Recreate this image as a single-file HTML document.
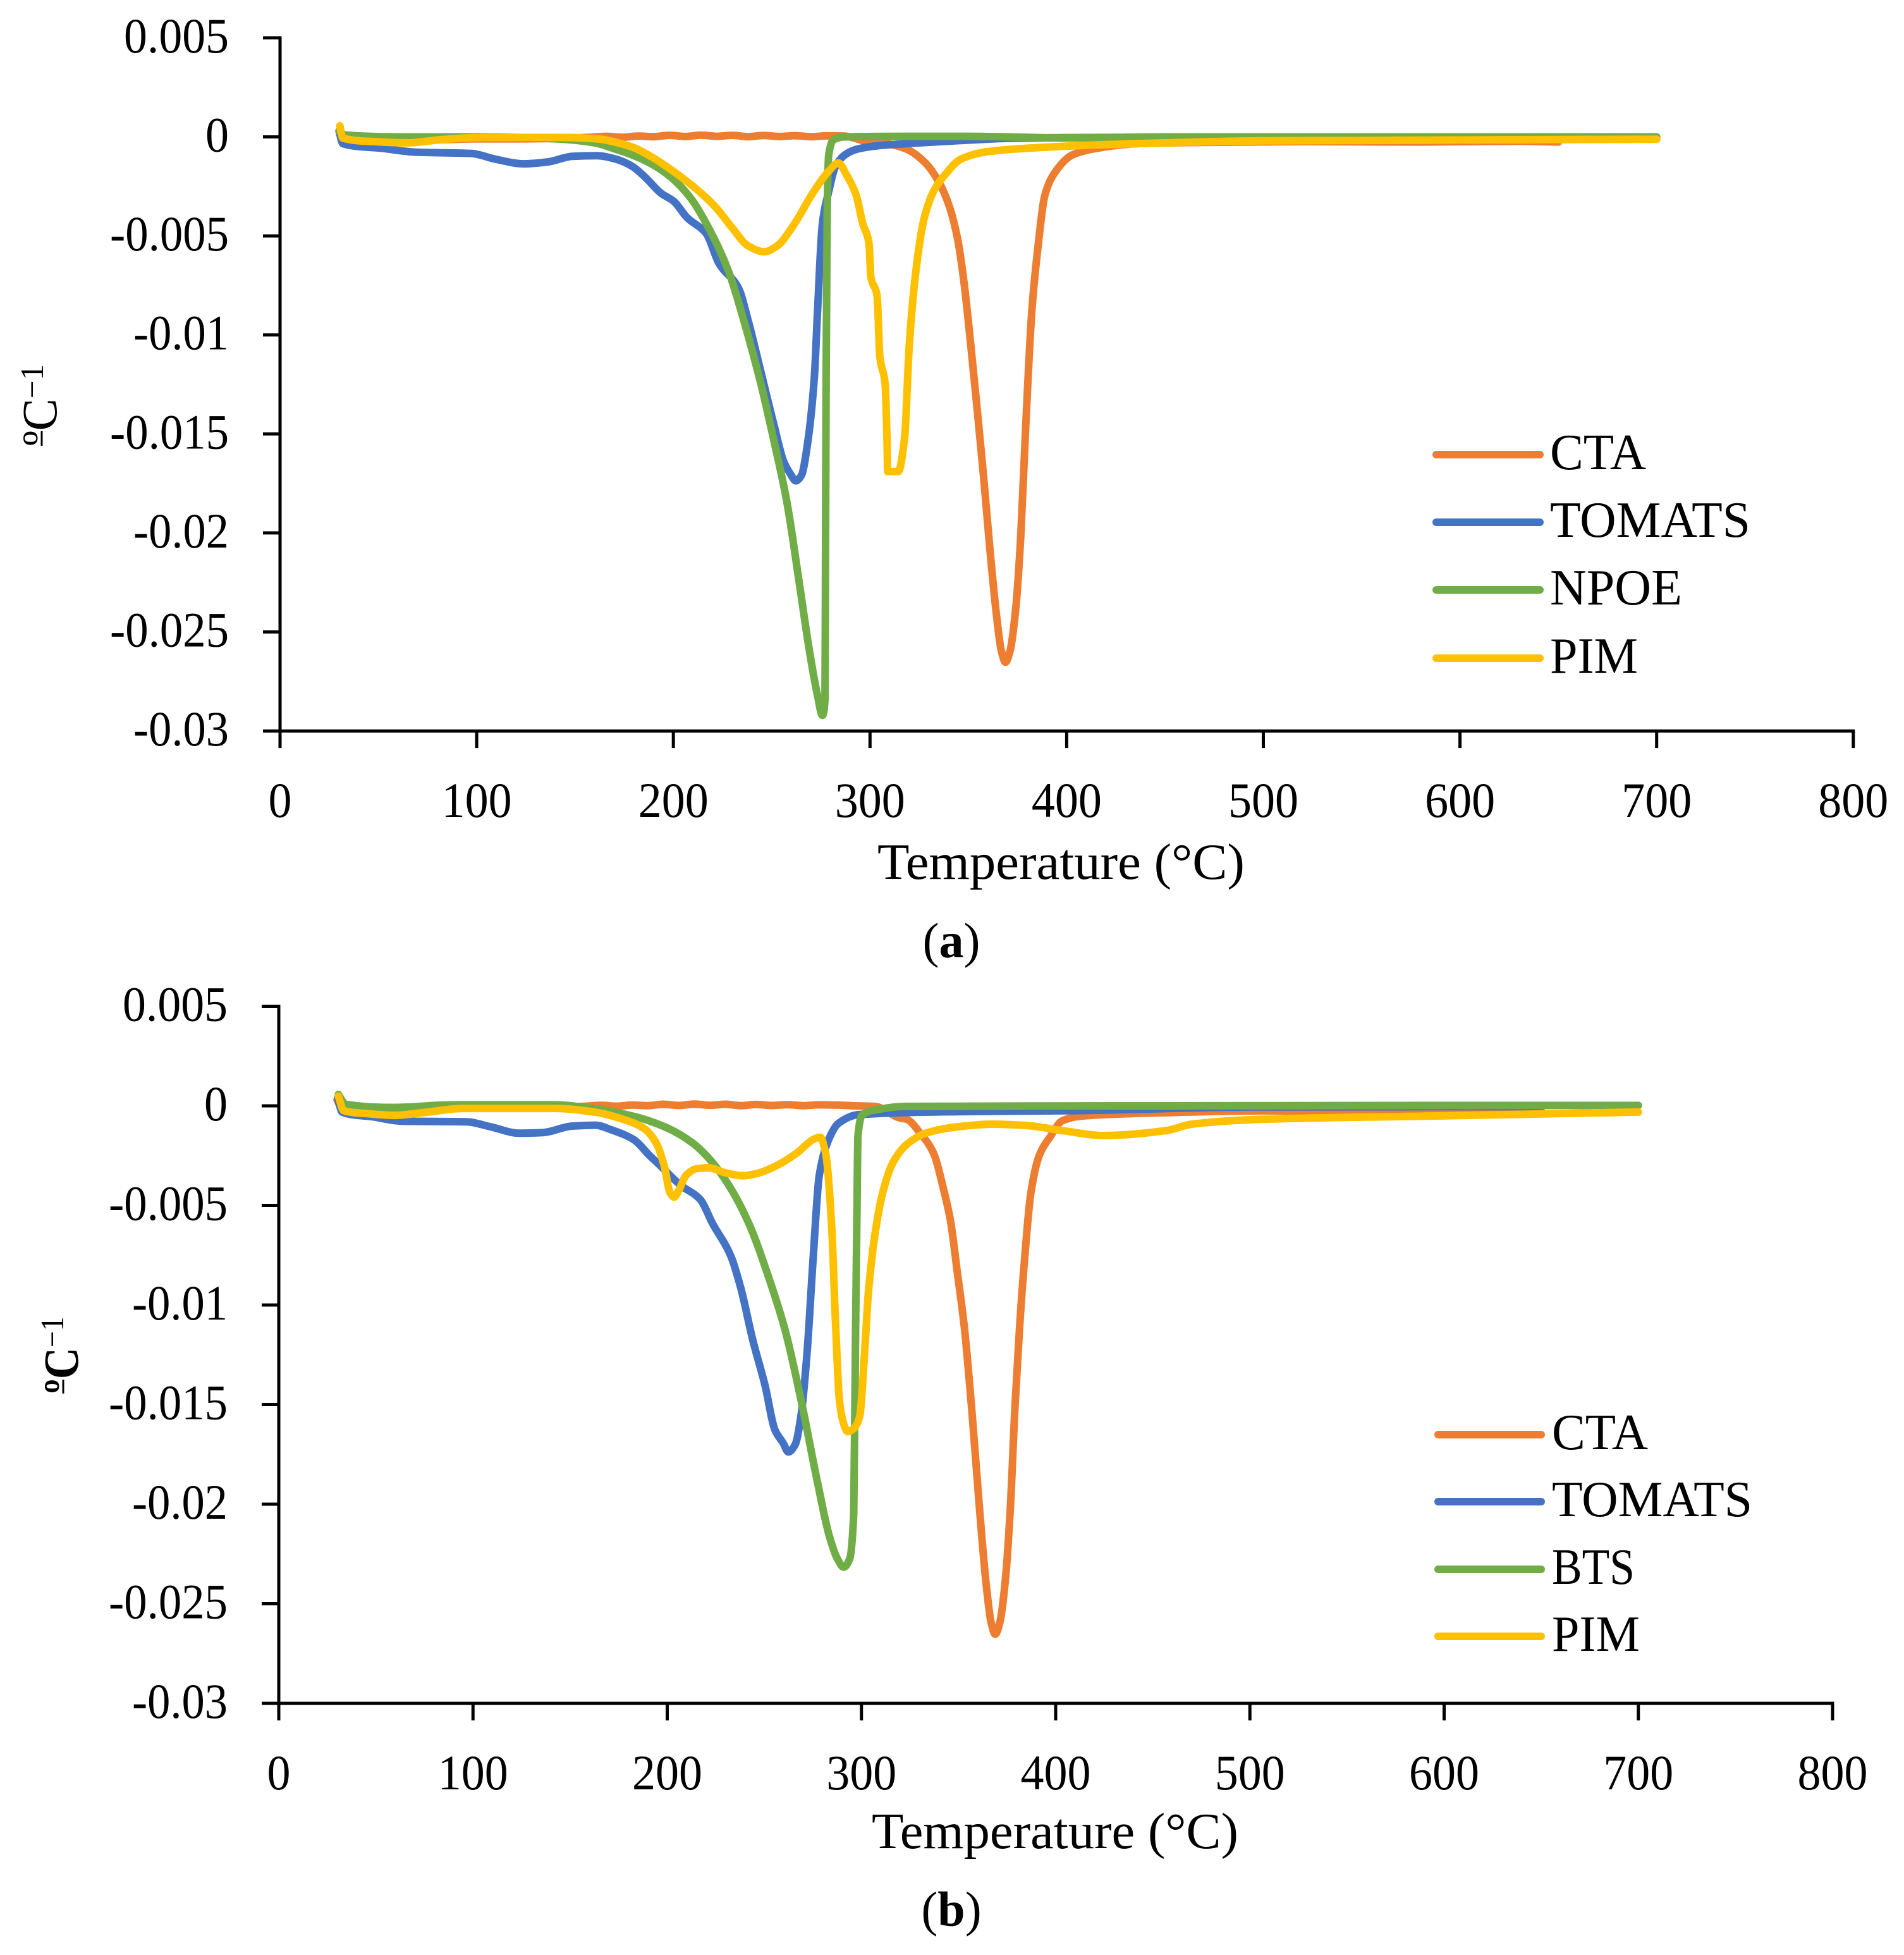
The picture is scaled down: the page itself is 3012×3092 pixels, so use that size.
<!DOCTYPE html>
<html lang="en">
<head>
<meta charset="utf-8">
<title>Derivative thermogravimetric curves</title>
<style>
html,body{margin:0;padding:0;background:#fff;}
svg{display:block;}
text{font-family:"Liberation Serif",serif;fill:#000;}
</style>
</head>
<body>
<svg id="figure" xmlns="http://www.w3.org/2000/svg" width="3012" height="3092" viewBox="0 0 3012 3092">
  <rect x="0" y="0" width="3012" height="3092" fill="#fff"/>
  <g id="chart-a"></g>
  <g id="chart-b"></g>

  <text transform="translate(89,705) rotate(-90)" font-size="78" textLength="129" lengthAdjust="spacingAndGlyphs">ºC<tspan font-size="52" dy="-21">−1</tspan></text>
  <line x1="66" y1="682" x2="66" y2="705" stroke="#000" stroke-width="3"/>
  <text x="1388" y="1390" font-size="80" textLength="581" lengthAdjust="spacingAndGlyphs">Temperature (°C)</text>
  <text x="1505" y="1514" font-size="78" text-anchor="middle">(<tspan font-weight="bold">a</tspan>)</text>

  <g>
    <line x1="2272" y1="719" x2="2436" y2="719" stroke="#ED7D31" stroke-width="12" stroke-linecap="round"/>
    <text x="2452" y="742" font-size="80" textLength="152" lengthAdjust="spacingAndGlyphs">CTA</text>
    <line x1="2272" y1="826" x2="2436" y2="826" stroke="#4472C4" stroke-width="12" stroke-linecap="round"/>
    <text x="2452" y="849" font-size="80" textLength="317" lengthAdjust="spacingAndGlyphs">TOMATS</text>
    <line x1="2272" y1="933" x2="2436" y2="933" stroke="#70AD47" stroke-width="12" stroke-linecap="round"/>
    <text x="2452" y="956" font-size="80" textLength="209" lengthAdjust="spacingAndGlyphs">NPOE</text>
    <line x1="2272" y1="1041" x2="2436" y2="1041" stroke="#FFC000" stroke-width="12" stroke-linecap="round"/>
    <text x="2452" y="1064" font-size="80" textLength="139" lengthAdjust="spacingAndGlyphs">PIM</text>
  </g>

  <text transform="translate(123,2204) rotate(-90)" font-size="78" font-weight="bold" textLength="122" lengthAdjust="spacingAndGlyphs">ºC<tspan font-size="52" font-weight="normal" dy="-23">−1</tspan></text>
  <line x1="100" y1="2182" x2="100" y2="2204" stroke="#000" stroke-width="3"/>
  <text x="1379" y="2923" font-size="80" textLength="580" lengthAdjust="spacingAndGlyphs">Temperature (°C)</text>
  <text x="1505" y="3046" font-size="78" text-anchor="middle">(<tspan font-weight="bold">b</tspan>)</text>

  <g>
    <line x1="2275" y1="2269" x2="2438" y2="2269" stroke="#ED7D31" stroke-width="12" stroke-linecap="round"/>
    <text x="2455" y="2292" font-size="80" textLength="152" lengthAdjust="spacingAndGlyphs">CTA</text>
    <line x1="2275" y1="2375" x2="2438" y2="2375" stroke="#4472C4" stroke-width="12" stroke-linecap="round"/>
    <text x="2455" y="2398" font-size="80" textLength="317" lengthAdjust="spacingAndGlyphs">TOMATS</text>
    <line x1="2275" y1="2482" x2="2438" y2="2482" stroke="#70AD47" stroke-width="12" stroke-linecap="round"/>
    <text x="2455" y="2505" font-size="80" textLength="131" lengthAdjust="spacingAndGlyphs">BTS</text>
    <line x1="2275" y1="2588" x2="2438" y2="2588" stroke="#FFC000" stroke-width="12" stroke-linecap="round"/>
    <text x="2455" y="2611" font-size="80" textLength="139" lengthAdjust="spacingAndGlyphs">PIM</text>
  </g>
</svg>

<script>
var xTickValues = [0, 100, 200, 300, 400, 500, 600, 700, 800];
var yTickValues = [0.005, 0, -0.005, -0.01, -0.015, -0.02, -0.025, -0.03];
var yTickLabels = ["0.005", "0", "-0.005", "-0.01", "-0.015", "-0.02", "-0.025", "-0.03"];

var ctaT = [30, 31, 33, 45, 60, 80, 100, 120, 140, 150, 158, 166, 174, 182, 190, 198, 206, 214, 222, 230, 238, 246, 254, 262, 270, 278, 287.2, 297, 308.6, 318.4, 328.2, 334.8, 340.5, 344.6, 347.9, 351.2, 354.5, 357.8, 361, 364.3, 366.8, 368.9, 371.2, 374.2, 376.6, 379.1, 382.4, 385.6, 388.9, 393.8, 402.9, 413.5, 436, 470, 520, 580, 630, 650];
var ctaV = [0.0003, 0.0001, -0.0001, -0.0002, -0.0002, -0.00015, -0.0001, -0.0001, -0.00008, -0.00005, -0.00002, 0.00003, -0.00002, 0.00004, 0.00001, 0.00008, 0.00002, 0.00009, 0.00003, 0.00008, 0.00001, 0.00007, 0.00002, 0.00006, 0.00001, 0.00005, 0.00004, -0.0002, -0.00034, -0.00061, -0.00132, -0.00224, -0.00356, -0.00519, -0.00743, -0.01048, -0.01374, -0.0172, -0.02087, -0.02413, -0.02596, -0.02653, -0.02596, -0.02372, -0.02026, -0.01476, -0.00865, -0.00539, -0.00295, -0.00183, -0.00091, -0.00061, -0.00034, -0.00028, -0.00024, -0.00026, -0.00022, -0.00026];

var tomatsT = [30, 31.9, 52.4, 68.8, 97.4, 109.7, 124, 136.4, 148.7, 161, 171, 179, 185.6, 193.8, 200.3, 206.9, 216.7, 223.3, 233.1, 238, 244.6, 251.2, 256.1, 259.4, 262.3, 265.1, 268.4, 271.7, 273.3, 275.8, 279, 282.3, 287.2, 293.8, 303.6, 318.4, 343, 375.8, 420, 500, 600, 650];
var tomatsV = [0.0003, -0.00034, -0.00058, -0.00077, -0.00084, -0.00113, -0.00136, -0.00126, -0.00098, -0.00095, -0.00113, -0.00148, -0.00203, -0.00285, -0.00326, -0.00407, -0.00488, -0.00641, -0.00763, -0.00926, -0.01191, -0.01456, -0.01639, -0.017, -0.01737, -0.0171, -0.01537, -0.01211, -0.00886, -0.00438, -0.00275, -0.00153, -0.00091, -0.00061, -0.00045, -0.00034, -0.0002, -0.00006, -0.00003, -0.00005, -0.00004, -0.00004];

var npoeT = [30, 33, 60, 100, 140, 160, 170, 179, 188.8, 198.7, 208.5, 218.4, 228.2, 236.4, 244.6, 251.2, 257.7, 264.3, 269.2, 273.3, 275.8, 277.1, 277.4, 277.7, 278.2, 279, 281.5, 287.2, 320, 350, 400, 450, 600, 700];
var npoeV = [0.0003, 0.0001, 0, 0, -0.0001, -0.0003, -0.0006, -0.00091, -0.00136, -0.00203, -0.00305, -0.00468, -0.00682, -0.00947, -0.01252, -0.01537, -0.01842, -0.0227, -0.02596, -0.0282, -0.02921, -0.0284, -0.0203, -0.01211, -0.00397, -0.00091, -0.00014, 0, 0.00003, 0.00003, -0.00005, 0, 0, 0];

var pimAT = [30.4, 31.9, 48.2, 64.7, 83, 103.5, 144.6, 161, 179, 187.2, 197, 211.8, 221.6, 229.8, 238, 246.2, 252.8, 261, 270.8, 279, 283.9, 288.1, 293, 296.3, 299.5, 300.4, 303.6, 305, 307.7, 308.6, 309, 314.3, 317.6, 320, 323.3, 327.4, 332.3, 338, 346.3, 359.4, 384, 436, 500, 700];
var pimAV = [0.00056, -0.00006, -0.00024, -0.0003, -0.00013, -0.00003, -0.00003, -0.0001, -0.00051, -0.00091, -0.00153, -0.00264, -0.00356, -0.00458, -0.0055, -0.0058, -0.0055, -0.00448, -0.00285, -0.00173, -0.00132, -0.00193, -0.00295, -0.00438, -0.00539, -0.00702, -0.00804, -0.0111, -0.01252, -0.01517, -0.0169, -0.0169, -0.01517, -0.01048, -0.0068, -0.00417, -0.00275, -0.00193, -0.00112, -0.00075, -0.00055, -0.00034, -0.0002, -0.00012];

var ctaBT = [30, 31, 33, 45, 60, 80, 100, 120, 140, 150, 158, 166, 174, 182, 190, 198, 206, 214, 222, 230, 238, 246, 254, 262, 270, 278, 287.2, 297, 307, 319.5, 323.2, 330.5, 337, 342.2, 345.8, 349.4, 353, 357, 361, 364.3, 366.8, 368.9, 371.2, 374.2, 376.6, 379.1, 381.4, 384.3, 387.2, 391.6, 397.4, 403.2, 413.4, 454, 507, 580, 630, 650];
var ctaBV = [0.0003, 0.0001, -0.0001, -0.0002, -0.0002, -0.00015, -0.0001, -0.0001, -0.00008, -0.00005, -0.00002, 0.00003, -0.00002, 0.00004, 0.00001, 0.00008, 0.00002, 0.00009, 0.00003, 0.00008, 0.00001, 0.00007, 0.00002, 0.00006, 0.00001, 0.00005, 0.00004, 0, -0.00003, -0.0006, -0.00067, -0.0014, -0.00235, -0.00416, -0.00575, -0.00838, -0.01114, -0.0155, -0.0205, -0.0241, -0.02596, -0.02653, -0.02596, -0.0237, -0.0203, -0.015, -0.01114, -0.00733, -0.00438, -0.00248, -0.00152, -0.00076, -0.00051, -0.00035, -0.00025, -0.00026, -0.00022, -0.00026];

var tomatsBT = [30.3, 32.7, 49, 63.5, 96.7, 109, 123.7, 136, 150.7, 163, 171.4, 182.8, 191, 196.3, 206.7, 217, 223.3, 232.7, 237.9, 244, 250.3, 255.5, 259.7, 262.4, 265.9, 269, 272, 275.2, 278.3, 283.9, 288, 298.6, 352, 410, 500, 600, 650];
var tomatsBV = [0.0004, -0.00032, -0.00056, -0.00077, -0.0008, -0.00105, -0.00137, -0.00134, -0.00102, -0.00097, -0.00121, -0.0017, -0.0025, -0.00299, -0.00397, -0.0047, -0.0059, -0.00753, -0.00915, -0.01174, -0.01401, -0.01628, -0.01693, -0.01738, -0.017, -0.01547, -0.0124, -0.00753, -0.00348, -0.00152, -0.00089, -0.00044, -0.00029, -0.00024, -0.00006, -0.00004, -0.00004];

var btsT = [30.7, 34.4, 59, 90, 142, 163, 184, 200.5, 213, 221, 231.6, 242, 252.4, 260.7, 269, 277.3, 283.5, 287.7, 290.8, 293.9, 296, 297, 297.7, 298.2, 300.6, 308, 322.3, 450, 600, 700];
var btsV = [0.00057, 0.00008, -0.00008, 0.00005, 0.00005, -0.00016, -0.00056, -0.00113, -0.00186, -0.00259, -0.00397, -0.0059, -0.00866, -0.01126, -0.01482, -0.01887, -0.02162, -0.02276, -0.02316, -0.02276, -0.0205, -0.01114, -0.0052, -0.00152, -0.00044, -0.00019, -0.00003, 0, 0.00002, 0.00002];

var pimBT = [30.7, 33.4, 46.9, 59.3, 76, 94.6, 142.4, 163, 177.7, 188, 194.3, 198.4, 201.5, 203.6, 205.7, 209.8, 215, 221.3, 229.6, 239, 246, 256.5, 267, 275, 278.7, 281.5, 284.6, 286.6, 288.7, 290.8, 292.9, 296, 299, 302, 303.5, 307.2, 310.9, 316, 323.3, 333.5, 349.5, 367, 384.4, 403.3, 425, 457, 470, 507.6, 600, 700];
var pimBV = [0.00049, -0.00024, -0.0004, -0.00048, -0.00032, -0.00013, -0.00013, -0.00032, -0.00069, -0.00113, -0.00186, -0.00299, -0.00437, -0.00458, -0.00429, -0.00348, -0.00316, -0.00311, -0.00335, -0.00351, -0.0034, -0.00299, -0.00235, -0.0017, -0.00157, -0.00235, -0.0059, -0.01077, -0.01482, -0.01595, -0.01636, -0.0162, -0.01563, -0.0118, -0.00946, -0.00629, -0.00438, -0.00289, -0.00194, -0.00136, -0.00105, -0.00092, -0.00098, -0.00124, -0.00149, -0.00124, -0.00092, -0.00067, -0.0005, -0.00031];

var SVG_NS = "http://www.w3.org/2000/svg";
var digitWidth = 37, dotWidth = 18, hyphenWidth = 22;

function labelWidth(s) {
  var w = 0;
  for (var i = 0; i < s.length; i++) {
    w += s[i] === "." ? dotWidth : (s[i] === "-" ? hyphenWidth : digitWidth);
  }
  return w;
}

// Monotone cubic path through the projected data points (no overshoot at peaks).
function monotonePath(xs, ys) {
  var n = xs.length, d = [], m = [], i;
  for (i = 0; i < n - 1; i++) d.push((ys[i + 1] - ys[i]) / (xs[i + 1] - xs[i]));
  m[0] = d[0];
  m[n - 1] = d[n - 2];
  for (i = 1; i < n - 1; i++) {
    if (d[i - 1] * d[i] <= 0) {
      m[i] = 0;
    } else {
      var h0 = xs[i] - xs[i - 1], h1 = xs[i + 1] - xs[i];
      var w1 = 2 * h1 + h0, w2 = h1 + 2 * h0;
      m[i] = (w1 + w2) / (w1 / d[i - 1] + w2 / d[i]);
    }
  }
  var out = "M" + xs[0].toFixed(1) + " " + ys[0].toFixed(1);
  for (i = 0; i < n - 1; i++) {
    var h = (xs[i + 1] - xs[i]) / 3;
    out += "C" + (xs[i] + h).toFixed(1) + " " + (ys[i] + m[i] * h).toFixed(1) + " " +
      (xs[i + 1] - h).toFixed(1) + " " + (ys[i + 1] - m[i + 1] * h).toFixed(1) + " " +
      xs[i + 1].toFixed(1) + " " + ys[i + 1].toFixed(1);
  }
  return out;
}

function drawSeries(group, xScale, yScale, temps, values, color, name) {
  var el = document.createElementNS(SVG_NS, "path");
  el.setAttribute("d", monotonePath(temps.map(xScale), values.map(yScale)));
  el.setAttribute("fill", "none");
  el.setAttribute("stroke", color);
  el.setAttribute("stroke-width", "12");
  el.setAttribute("stroke-linejoin", "round");
  el.setAttribute("stroke-linecap", "round");
  
  
  group.appendChild(el);
}

function drawAxes(group, xScale, yScale, suffix, yLabelRight) {
  var top = yScale(yTickValues[0]);
  var bottom = yScale(yTickValues[yTickValues.length - 1]);
  var left = xScale(0);
  var right = xScale(xTickValues[xTickValues.length - 1]);
  var tickLen = 27;

  var yAxis = document.createElementNS(SVG_NS, "line");
  yAxis.setAttribute("x1", left);
  yAxis.setAttribute("x2", left);
  yAxis.setAttribute("y1", top - 2.5);
  yAxis.setAttribute("y2", bottom);
  yAxis.setAttribute("stroke", "#000");
  yAxis.setAttribute("stroke-width", "5");
  
  
  group.appendChild(yAxis);

  var xAxis = document.createElementNS(SVG_NS, "line");
  xAxis.setAttribute("x1", left);
  xAxis.setAttribute("x2", right + 2.5);
  xAxis.setAttribute("y1", bottom);
  xAxis.setAttribute("y2", bottom);
  xAxis.setAttribute("stroke", "#000");
  xAxis.setAttribute("stroke-width", "5");
  
  
  group.appendChild(xAxis);

  yTickValues.forEach(function (v, i) {
    var tick = document.createElementNS(SVG_NS, "line");
    tick.setAttribute("x1", left - tickLen);
    tick.setAttribute("x2", left);
    tick.setAttribute("y1", yScale(v));
    tick.setAttribute("y2", yScale(v));
    tick.setAttribute("stroke", "#000");
    tick.setAttribute("stroke-width", "5");
    
    
    group.appendChild(tick);

    var label = document.createElementNS(SVG_NS, "text");
    var s = yTickLabels[i];
    var w = labelWidth(s);
    label.setAttribute("x", yLabelRight - w);
    label.setAttribute("y", yScale(v) + 23);
    label.setAttribute("font-size", "78");
    label.setAttribute("textLength", w);
    label.setAttribute("lengthAdjust", "spacingAndGlyphs");
    
    
    label.textContent = s;
    group.appendChild(label);
  });

  xTickValues.forEach(function (t) {
    var tick = document.createElementNS(SVG_NS, "line");
    tick.setAttribute("x1", xScale(t));
    tick.setAttribute("x2", xScale(t));
    tick.setAttribute("y1", bottom);
    tick.setAttribute("y2", bottom + tickLen);
    tick.setAttribute("stroke", "#000");
    tick.setAttribute("stroke-width", "5");
    
    
    group.appendChild(tick);

    var label = document.createElementNS(SVG_NS, "text");
    var s = String(t);
    var w = labelWidth(s);
    label.setAttribute("x", xScale(t) - w / 2);
    label.setAttribute("y", bottom + 136);
    label.setAttribute("font-size", "78");
    label.setAttribute("textLength", w);
    label.setAttribute("lengthAdjust", "spacingAndGlyphs");
    
    
    label.textContent = s;
    group.appendChild(label);
  });
}

function xScaleA(t) { return 443 + t * 3.111; }
function yScaleA(v) { return 216.5 - v * 31320; }
function xScaleB(t) { return 441 + t * 3.0725; }
function yScaleB(v) { return 1749 - v * 31500; }

var groupA = document.getElementById("chart-a");
drawAxes(groupA, xScaleA, yScaleA, "a", 362);
drawSeries(groupA, xScaleA, yScaleA, ctaT, ctaV, "#ED7D31", "series-cta-a");
drawSeries(groupA, xScaleA, yScaleA, tomatsT, tomatsV, "#4472C4", "series-tomats-a");
drawSeries(groupA, xScaleA, yScaleA, npoeT, npoeV, "#70AD47", "series-npoe-a");
drawSeries(groupA, xScaleA, yScaleA, pimAT, pimAV, "#FFC000", "series-pim-a");

var groupB = document.getElementById("chart-b");
drawAxes(groupB, xScaleB, yScaleB, "b", 360);
drawSeries(groupB, xScaleB, yScaleB, ctaBT, ctaBV, "#ED7D31", "series-cta-b");
drawSeries(groupB, xScaleB, yScaleB, tomatsBT, tomatsBV, "#4472C4", "series-tomats-b");
drawSeries(groupB, xScaleB, yScaleB, btsT, btsV, "#70AD47", "series-bts-b");
drawSeries(groupB, xScaleB, yScaleB, pimBT, pimBV, "#FFC000", "series-pim-b");
</script>
</body>
</html>
